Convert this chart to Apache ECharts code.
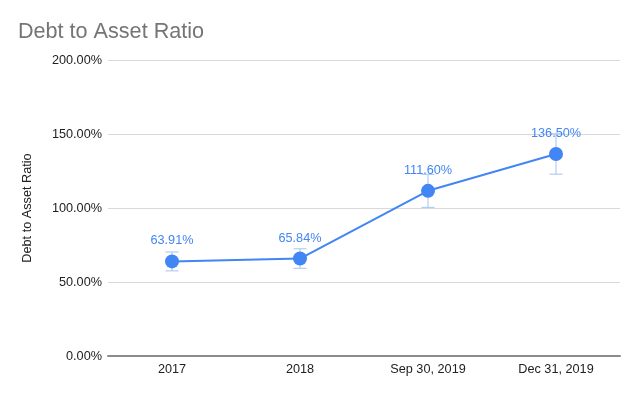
<!DOCTYPE html>
<html><head><meta charset="utf-8">
<script src="https://cdn.jsdelivr.net/npm/echarts@6/dist/echarts.min.js"></script>
<style>html,body{margin:0;padding:0;background:#fff}#c{width:640px;height:396px}</style>
</head><body><div id="c"></div>
<script>
var categories = ['2017', '2018', 'Sep 30, 2019', 'Dec 31, 2019'];
var ratioValues = [63.91, 65.84, 111.60, 136.50];
var errorAmounts = [6.39, 6.58, 11.16, 13.65];
var yTicks = [0, 50, 100, 150, 200];

var chart = echarts.init(document.getElementById('c'), null, {renderer: 'canvas'});
var errData = categories.map(function (c, i) {
  return [i, ratioValues[i] - errorAmounts[i], ratioValues[i] + errorAmounts[i]];
});
var font = 'Arial, "Liberation Sans", sans-serif';
chart.setOption({
  animation: false,
  title: {
    text: 'Debt to Asset Ratio', left: 13, top: 16,
    textStyle: {color: '#757575', fontSize: 21.6, fontWeight: 'normal', fontFamily: font}
  },
  grid: {left: 108, right: 20, top: 60, bottom: 40},
  xAxis: {type: 'category', data: categories, boundaryGap: true,
     axisLine: {show: true, onZero: false, lineStyle: {color: '#8c8c8c', width: 2}}, axisTick: {show: false},
     axisLabel: {color: '#222', fontSize: 12.7, fontFamily: font, margin: 7}},
  yAxis: {type: 'value', min: yTicks[0], max: yTicks[yTicks.length - 1], interval: 50,
     axisLine: {show: false}, axisTick: {show: false},
     axisLabel: {color: '#222', fontSize: 12.7, fontFamily: font, margin: 6,
       formatter: function (v) { return v.toFixed(2) + '%'; }},
     splitLine: {lineStyle: {color: '#d9d9d9', width: 1}},
     name: 'Debt to Asset Ratio', nameLocation: 'middle', nameGap: 74, nameRotate: 90,
     nameTextStyle: {color: '#222', fontSize: 12.7, fontFamily: font}},
  series: [
    {
      type: 'custom', data: errData, z: 1,
      renderItem: function (params, api) {
        var lo = api.coord([api.value(0), api.value(1)]);
        var hi = api.coord([api.value(0), api.value(2)]);
        var w = 6.5;
        var st = {stroke: '#a4c3f5', lineWidth: 1};
        return {type: 'group', children: [
          {type: 'line', shape: {x1: lo[0], y1: lo[1], x2: hi[0], y2: hi[1]}, style: st},
          {type: 'line', shape: {x1: lo[0] - w, y1: lo[1], x2: lo[0] + w, y2: lo[1]}, style: st},
          {type: 'line', shape: {x1: hi[0] - w, y1: hi[1], x2: hi[0] + w, y2: hi[1]}, style: st}
        ]};
      }
    },
    {
      type: 'line', data: ratioValues, z: 3,
      symbol: 'circle', symbolSize: 14,
      lineStyle: {color: '#4285f4', width: 2},
      itemStyle: {color: '#4285f4'},
      label: {show: true, position: 'top', distance: 7, color: '#4285f4', fontSize: 12.7, fontFamily: font,
        formatter: function (p) { return p.value.toFixed(2) + '%'; }}
    }
  ]
});
</script></body></html>
